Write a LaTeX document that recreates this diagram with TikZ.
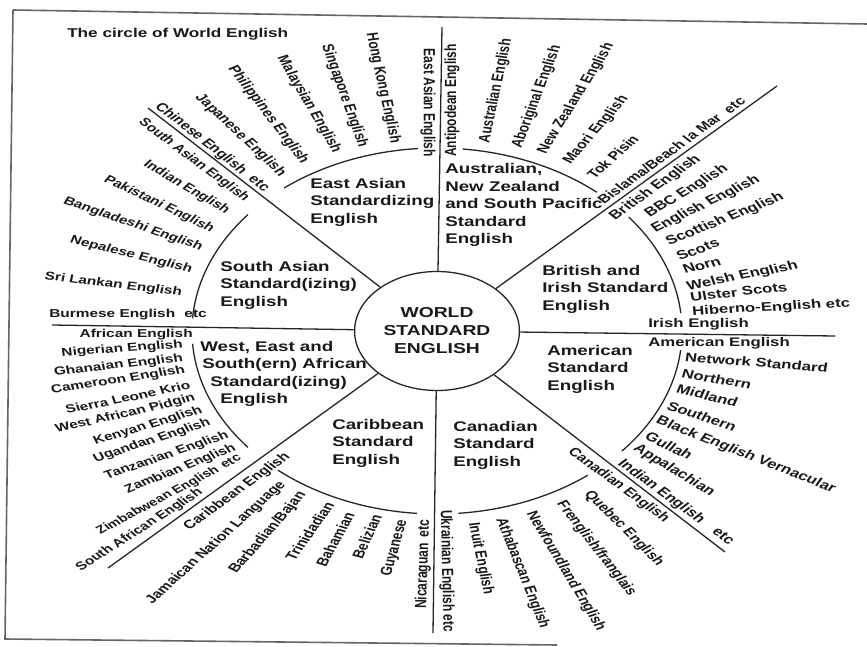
\documentclass[tikz,border=0pt]{standalone}
\usepackage{fontspec}
\setmainfont{Liberation Sans}
\usetikzlibrary{shapes.geometric}
\def\lsz{12}
\begin{document}
\begin{tikzpicture}[x=1pt,y=-1pt,
  % labels are widened horizontally, like the whole wheel
  lab/.style={font=\bfseries\fontsize{\lsz}{15}\selectfont, inner sep=0pt, xscale=1.34, text=black!90},
  rdin/.style={lab, anchor=east, rotate=#1},
  rdout/.style={lab, anchor=west, rotate=#1},
  sect/.style={font=\bfseries\fontsize{14}{17.5}\selectfont, inner sep=0pt, xscale=1.34,
               align=left, anchor=west, text=black!90},
  radial/.style={draw=black!85, line width=1.3pt},
  ring/.style={draw=black!85, line width=1.3pt},
  frame/.style={draw=black!60, line width=1.6pt}]
\useasboundingbox (0,0) rectangle (867,647);
\fill[white] (0,0) rectangle (867,647);

% outer frame
\draw[frame] (13,10) -- (867,24);
\draw[frame] (13,10) -- (5,639) -- (557,645);

\coordinate (c) at (437,331);

% centre
\node[draw=black!85, line width=1.3pt, ellipse, xscale=1.34, minimum width=123pt, minimum height=119pt,
      inner sep=0pt, align=center, font=\bfseries\fontsize{14.4}{18}\selectfont, text=black!90]
      (world) at (c) {WORLD\\STANDARD\\ENGLISH};

% radial dividers
\coordinate (r1) at (442,27);
\coordinate (r2) at (777,86);
\coordinate (r3) at (835,336);
\coordinate (r4) at (725,552);
\coordinate (r5) at (433,633);
\coordinate (r6) at (108,568);
\coordinate (r7) at (52,325);
\coordinate (r8) at (148,108);
\foreach \r in {r1,r2,r3,r4,r5,r6,r7,r8} \draw[radial] (world) -- (\r);

% middle ring, one arc per region
\foreach \a/\b in {94.5/128.6, 49.3/84, 5.6/38.5, -41/-6, -85/-52, -130.5/-94.7, -176/-140.5, 140.5/176}
  \draw[ring] (c) ++(\a:245pt and 183pt) arc[start angle=\a, end angle=\b, x radius=245pt, y radius=183pt];

% title
\node[lab, anchor=west, font=\bfseries\fontsize{12.8}{15}\selectfont] (title) at (67,34) {The circle of World English};

% region names
\node[sect] (sEA) at (310,202) {East Asian\\Standardizing\\English};
\node[sect] (sAU) at (445,205) {Australian,\\New Zealand\\and South Pacific\\Standard\\English};
\node[sect] (sBR) at (542,289) {British and\\Irish Standard\\English};
\node[sect] (sAM) at (547,369) {American\\Standard\\English};
\node[sect] (sCA) at (453,445) {Canadian\\Standard\\English};
\node[sect] (sCB) at (332,443) {Caribbean\\Standard\\English};
\node[sect] (sSA) at (220,285) {South Asian\\Standard(izing)\\English};
\node[sect] (sAF1) at (200,348) {West, East and};
\node[sect] (sAF2) at (202,365) {South(ern) African};
\node[sect] (sAF3) at (210,383) {Standard(izing)};
\node[sect] (sAF4) at (220,400) {English};

% East Asian varieties
\node[rdin=-90]   (ea1) at (428,157) {East Asian English};
\node[rdin=-80.6] (ea2) at (395,143) {Hong Kong English};
\node[rdin=-74.8] (ea3) at (363,147) {Singapore English};
\node[rdin=-66.3] (ea4) at (337,152) {Malaysian English};
\node[rdin=-60.3] (ea5) at (305,163) {Philippines English};
\node[rdin=-51.3] (ea6) at (283,175) {Japanese English};
\node[rdin=-46.1] (ea7) at (267,190) {Chinese English\hspace{.6em}etc};

\begin{scope}
\def\lsz{11.5}
% South Asian varieties
\node[rdin=-45]   (sa1) at (247,200) {South Asian English};
\node[rdin=-38.4] (sa2) at (228,212) {Indian English};
\node[rdin=-32.6] (sa3) at (213,230) {Pakistani English};
\node[rdin=-24.8] (sa4) at (202,248) {Bangladeshi English};
\node[rdin=-18.2] (sa5) at (192,270) {Nepalese English};
\node[rdin=-9.3]  (sa6) at (182,293) {Sri Lankan English};
\node[rdin=0]     (sa7) at (207,315) {Burmese English\hspace{.6em}etc};

% African varieties
\node[rdin=0]    (af1)  at (193,335) {African English};
\node[rdin=5.1]  (af2)  at (183,345) {Nigerian English};
\node[rdin=8.9]  (af3)  at (183,358) {Ghanaian English};
\node[rdin=11.5] (af4)  at (185,370) {Cameroon English};
\node[rdin=15]   (af5)  at (190,385) {Sierra Leone Krio};
\node[rdin=17.2] (af6)  at (195,398) {West African Pidgin};
\node[rdin=21.5] (af7)  at (202,410) {Kenyan English};
\node[rdin=23.5] (af8)  at (210,422) {Ugandan English};
\node[rdin=24.4] (af9)  at (228,435) {Tanzanian English};
\node[rdin=28.2] (af10) at (235,447) {Zambian English};
\node[rdin=35.5, font=\bfseries\fontsize{11}{14}\selectfont] (af11) at (240,457) {Zimbabwean English\hspace{.4em}etc};
\node[rdin=40.5] (af12) at (201,491) {South African English};
\end{scope}

% Caribbean varieties
\node[rdin=44.2] (cb1) at (288,455) {Caribbean English};
\node[rdin=50.1] (cb2) at (283,483) {Jamaican Nation Language};
\node[rdin=56.5] (cb3) at (303,493) {Barbadian/Bajan};
\node[rdin=62]   (cb4) at (330,503) {Trinidadian};
\node[rdin=67.5] (cb5) at (350,513) {Bahamian};
\node[rdin=70.8] (cb6) at (377,515) {Belizian};
\node[rdin=77.9] (cb7) at (403,520) {Guyanese};
\node[rdin=88.5] (cb8) at (425,520) {Nicaraguan\hspace{.5em}etc};

% Canadian varieties
\node[rdout=-89]   (ca1) at (445,510) {Ukrainian English etc};
\node[rdout=-81]   (ca2) at (473,523) {Inuit English};
\node[rdout=-73.2] (ca3) at (500,518) {Athabascan English};
\node[rdout=-65.8] (ca4) at (530,512) {Newfoundland English};
\node[rdout=-59.8] (ca5) at (560,502) {Frenglish/franglais};
\node[rdout=-52.9] (ca6) at (587,492) {Quebec English};
\node[rdout=-44.2] (ca7) at (570,450) {Canadian English};

\begin{scope}
\def\lsz{12.5}
% American varieties
\node[rdout=-44.2] (am1) at (620,462) {Indian English\hspace{1em}etc};
\node[rdout=-38.8] (am2) at (635,447) {Appalachian};
\node[rdout=-32.7] (am3) at (647,435) {Gullah};
\node[rdout=-27.8] (am4) at (657,420) {Black English Vernacular};
\node[rdout=-23.5] (am5) at (668,405) {Southern};
\node[rdout=-18.2] (am6) at (677,388) {Midland};
\node[rdout=-12.9] (am7) at (682,373) {Northern};
\node[rdout=-5.9]  (am8) at (685,357) {Network Standard};
\node[rdout=0]     (am9) at (648,343) {American English};

% British and Irish varieties
\node[rdout=0]    (br1)  at (648,324) {Irish English};
\node[rdout=4]    (br2)  at (692,312) {Hiberno-English etc};
\node[rdout=8]    (br3)  at (690,297) {Ulster Scots};
\node[rdout=14.6] (br4)  at (687,287) {Welsh English};
\node[rdout=18.5] (br5)  at (683,270) {Norn};
\node[rdout=26]   (br6)  at (677,257) {Scots};
\node[rdout=28.4] (br7)  at (667,243) {Scottish English};
\node[rdout=33.2] (br8)  at (653,230) {English English};
\node[rdout=38.8] (br9)  at (647,215) {BBC English};
\node[rdout=43.2] (br10) at (612,218) {British English};
\end{scope}

% Australian, New Zealand and South Pacific varieties
\node[rdout=44.1] (au1) at (600,202) {Bislama/Beach la Mar\hspace{.6em}etc};
\node[rdout=50]   (au2) at (590,177) {Tok Pisin};
\node[rdout=56.7] (au3) at (567,163) {Maori English};
\node[rdout=65]   (au4) at (542,153) {New Zealand English};
\node[rdout=73.8] (au5) at (517,148) {Aboriginal English};
\node[rdout=81]   (au6) at (485,143) {Australian English};
\node[rdout=90]   (au7) at (452,157) {Antipodean English};
\end{tikzpicture}
\end{document}
